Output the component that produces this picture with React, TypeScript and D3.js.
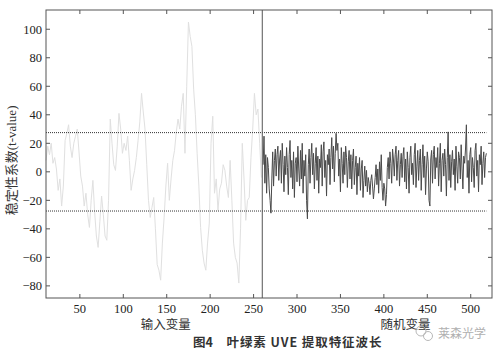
import React from 'react';
import * as d3 from 'd3';

// t-values of the real input variables (x = 11, 13, ... 259)
const inputStart = 11;
const inputStep = 2;
const inputValues = [
  8, 18, 12, 20, 6, 10, 2, -13, -5, -24, -10, 22, 27, 33, 18, 10, 20, 25, 30, 14,
  -3, -10, -24, -15, -30, -39, -20, -6, -28, -45, -53, -35, -17, -30, -45, -48, -20, 37, 20, 5,
  1, 18, 41, 30, 13, 20, 15, 25, 8, -13, -5, 1, 10, 22, 35, 55, 42, 30, 5, -20,
  -32, -25, -18, -40, -65, -69, -76, -50, -32, -10, 6, -20, -5, 8, 15, 28, 37, 30, 46, 55,
  13, 60, 105, 95, 88, 58, 40, 13, -10, -39, -55, -64, -69, -50, -36, 20, 39, -15, -5, -27,
  -12, -8, 5, 1, -10, -18, 8, -20, -50, -60, -64, -78, -40, 20, -5, -34, -20, -18, 10, 30,
  55, 40, 44, 20, -4,
];

// t-values of the random variables (x = 261 ... 518)
const randomStart = 261;
const randomValues = [
  5, 25, -8, 12, -15, 10, 3, -12, -20, -29, -5, 14, -10, 8, 16, -3, 12, 18, -6, 9,
  15, -8, 20, 5, -14, 11, -2, 17, 3, -16, 12, 22, -4, 8, -12, 14, -18, 6, 10, -7,
  18, 2, -10, 15, -5, 20, -15, 8, -3, 12, -20, -33, 5, 16, -8, 10, 20, -2, 13, -12,
  6, 17, -6, 11, -15, 9, 3, 19, -10, 14, 21, -4, 8, -17, 12, 5, 16, -9, 10, 24,
  2, 18, -7, 13, 27, 15, 20, -3, 9, -14, 17, 6, -8, 14, -2, 18, 10, -11, 7, 15,
  -5, 12, -12, 8, 16, -9, 3, 11, -16, 6, -3, 10, -13, 2, 8, -18, -6, 4, -10, 1,
  -14, -4, -8, -16, -6, -2, -10, -19, -12, -4, 5, -9, 2, -15, 7, -6, 12, -11, -20, -8,
  -12, -24, -16, 3, 10, -5, 14, 6, -8, 16, 9, -3, 12, 18, -6, 8, 15, -10, 5, 13,
  -4, 11, 17, -7, 9, -12, 14, 3, -15, 10, 18, -2, 6, -9, 12, 20, -11, 4, 15, -6,
  8, 16, -13, 5, 19, -4, 11, -16, 2, 14, 7, -20, -24, 9, 15, -8, 12, 18, -5, 10,
  3, 17, -10, 6, 20, -14, 8, 13, -3, 16, 5, -17, 10, 28, -6, 12, -11, 7, 15, -2,
  9, -13, 18, 4, -8, 14, 10, -5, 19, 2, -12, 11, 6, 16, 33, -4, 8, -15, 12, 17,
  -7, 10, 3, -11, 15, 20, -3, 8, -14, 12, 5, 18, -9, 6, 14, -4, 10, 13,
];

const xTicks = [50, 100, 150, 200, 250, 300, 350, 400, 450, 500];
const yTicks = [-80, -60, -40, -20, 0, 20, 40, 60, 80, 100];
const cutoff = 27.5;
const splitAt = 260;

const serif = '"Liberation Serif", "Noto Sans CJK SC", serif';
const sans = '"Noto Sans CJK SC", "Noto Sans", sans-serif';

function App() {
  var margin = {top: 10, left: 46, right: 11, bottom: 62},
    width = 503 - margin.left - margin.right,
    height = 360 - margin.top - margin.bottom;

  const x = d3.scaleLinear().domain([11, 524.5]).range([0, width]);
  const y = d3.scaleLinear().domain([-88.5, 113.5]).range([height, 0]);

  const inputPts = inputValues.map((v, i) => [inputStart + i * inputStep, v]);
  const randomPts = randomValues.map((v, i) => [randomStart + i, v]);

  const line = d3.line<number[]>()
    .x(d => x(d[0]))
    .y(d => y(d[1]));

  const fmt = (v: number) => (v < 0 ? '\u2212' + Math.abs(v) : String(v));
  const axisColor = '#555';

  return (
    <svg width={503} height={360} style={{position: 'absolute', left: 0, top: 0, background: '#fff'}}>
      <g transform={`translate(${margin.left},${margin.top})`}>
        {/* series */}
        <path d={line(inputPts) || ''} fill="none" stroke="#e0e0e0" strokeWidth={1} />
        <path d={line(randomPts) || ''} fill="none" stroke="#4a4a4a" strokeWidth={1} />

        {/* cutoff lines */}
        {[cutoff, -cutoff].map(c => (
          <line key={c} x1={0} x2={x(518)} y1={y(c)} y2={y(c)}
            stroke="#333" strokeWidth={1} strokeDasharray="1,1" />
        ))}

        {/* separator */}
        <line x1={x(splitAt)} x2={x(splitAt)} y1={0} y2={height} stroke="#555" strokeWidth={1} />

        {/* frame */}
        <rect x={0} y={0} width={width} height={height} fill="none" stroke={axisColor} strokeWidth={1} />

        {/* x ticks */}
        {xTicks.map(t => (
          <g key={t}>
            <line x1={x(t)} x2={x(t)} y1={height} y2={height - 4} stroke={axisColor} />
            <line x1={x(t)} x2={x(t)} y1={0} y2={4} stroke={axisColor} />
            <text x={x(t)} y={height + 15} textAnchor="middle" fontFamily={serif} fontSize={12.5} fill="#222">{t}</text>
          </g>
        ))}

        {/* y ticks */}
        {yTicks.map(t => (
          <g key={t}>
            <line x1={0} x2={4} y1={y(t)} y2={y(t)} stroke={axisColor} />
            <line x1={width} x2={width - 4} y1={y(t)} y2={y(t)} stroke={axisColor} />
            <text x={-4} y={y(t)} dy="0.35em" textAnchor="end" fontFamily={serif} fontSize={12.5} fill="#222">{fmt(t)}</text>
          </g>
        ))}

        {/* axis titles */}
        <text x={x(149)} y={height + 31} textAnchor="middle" fontFamily={serif} fontSize={12.5} fill="#333">输入变量</text>
        <text x={x(425)} y={height + 31} textAnchor="middle" fontFamily={serif} fontSize={12.5} fill="#333">随机变量</text>
        <text transform={`translate(${-30},${y(8)}) rotate(-90)`} textAnchor="middle" fontFamily={serif} fontSize={13} fill="#333">稳定性系数(t-value)</text>
      </g>

      {/* caption */}
      <text x={193} y={347} fontFamily={sans} fontSize={12.5} fontWeight={600} fill="#333">图4</text>
      <text x={226.5} y={347} fontFamily={sans} fontSize={12.5} fontWeight={600} fill="#333"
        textLength={155} lengthAdjust="spacing">叶绿素 UVE 提取特征波长</text>

      {/* watermark */}
      <g stroke="#b8b8b8" fill="none" strokeWidth={1}>
        <circle cx={421} cy={331} r={5} />
        <circle cx={428} cy={336} r={4.5} />
      </g>
      <text x={438} y={338} fontFamily={sans} fontSize={12} fill="#b0b0b0" textLength={48} lengthAdjust="spacing">莱森光学</text>
    </svg>
  );
}

export default App;
